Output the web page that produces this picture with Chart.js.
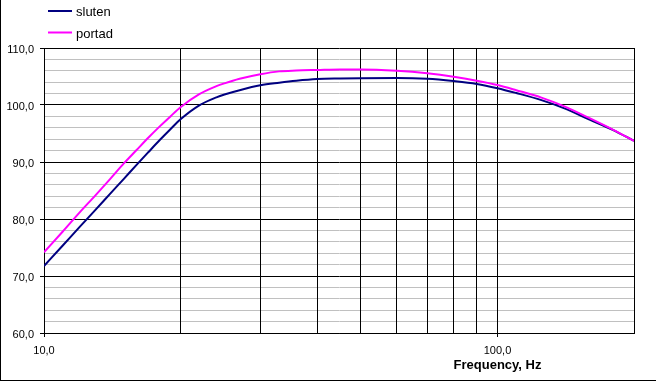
<!DOCTYPE html>
<html><head><meta charset="utf-8">
<script src="https://cdn.jsdelivr.net/npm/chart.js@4.4.1/dist/chart.umd.min.js"></script>
<style>html,body{margin:0;padding:0;background:#fff;}canvas{display:block;}</style>
</head><body>
<canvas id="c" width="656" height="381"></canvas>
<script>
// ---- data ----
const freqs  = [10, 11, 12, 13, 14, 15, 16, 17, 18, 19, 20, 22, 24, 25, 27, 30, 33, 36, 40, 45, 50, 60, 70, 80, 90, 100, 110, 125, 140, 160, 180, 200];
const sluten = [71.75, 75.35, 78.65, 81.65, 84.45, 87.05, 89.5, 91.75, 93.85, 95.75, 97.5, 99.95, 101.35, 101.85, 102.6, 103.45, 103.9, 104.25, 104.55, 104.65, 104.7, 104.74, 104.6, 104.2, 103.7, 102.95, 102.1, 100.85, 99.45, 97.4, 95.6, 93.7];
const portad = [74.15, 77.8, 81.2, 84.2, 87.05, 89.75, 92.1, 94.3, 96.25, 98.0, 99.6, 101.9, 103.3, 103.8, 104.6, 105.4, 105.9, 106.05, 106.15, 106.25, 106.25, 106.0, 105.55, 104.95, 104.25, 103.5, 102.6, 101.3, 99.8, 97.65, 95.65, 93.7];
const seriesNames  = ['sluten', 'portad'];
const seriesColors = ['#000080', '#ff00ff'];
const xTickValues = [10, 20, 30, 40, 50, 60, 70, 80, 90, 100, 200];
const xTickLabels = {10: '10,0', 100: '100,0'};
const yTickLabels = {60: '60,0', 70: '70,0', 80: '80,0', 90: '90,0', 100: '100,0', 110: '110,0'};
const xAxisTitle = 'Frequency, Hz';

const FONT = '"Liberation Sans", Arial, sans-serif';
const toPts = arr => freqs.map((f, i) => ({x: f, y: arr[i]}));

const decor = {
  id: 'decor',
  afterDraw(chart) {
    const ctx = chart.ctx;
    ctx.save();
    // legend
    ctx.font = '13px ' + FONT;
    ctx.textAlign = 'left';
    ctx.textBaseline = 'alphabetic';
    seriesNames.forEach((name, i) => {
      const y = 11 + i * 21.5;
      ctx.strokeStyle = seriesColors[i];
      ctx.lineWidth = 2;
      ctx.beginPath(); ctx.moveTo(48, y); ctx.lineTo(72, y); ctx.stroke();
      ctx.fillStyle = '#000';
      ctx.fillText(name, 76, y + 5);
    });
    // x axis title, centred under the 100 tick
    const xs = chart.scales.x;
    ctx.font = 'bold 13px ' + FONT;
    ctx.textAlign = 'center';
    ctx.fillText(xAxisTitle, xs.getPixelForValue(100), 369);
    // outer frame (left and bottom)
    ctx.fillStyle = '#000';
    ctx.fillRect(0, 0, 1, chart.height);
    ctx.fillRect(0, chart.height - 1, chart.width, 1);
    ctx.restore();
  }
};

new Chart(document.getElementById('c'), {
  type: 'line',
  data: {
    datasets: [
      {label: seriesNames[0], data: toPts(sluten), borderColor: seriesColors[0], borderWidth: 2, pointRadius: 0, cubicInterpolationMode: 'monotone', order: 1},
      {label: seriesNames[1], data: toPts(portad), borderColor: seriesColors[1], borderWidth: 2, pointRadius: 0, cubicInterpolationMode: 'monotone', order: 0}
    ]
  },
  options: {
    responsive: false,
    animation: false,
    devicePixelRatio: 1,
    layout: {padding: {top: 48, right: 22, left: 0, bottom: 0}},
    plugins: {legend: {display: false}, tooltip: {enabled: false}},
    scales: {
      x: {
        type: 'logarithmic', min: 10, max: 200, position: 'bottom',
        afterBuildTicks: s => { s.ticks = xTickValues.map(v => ({value: v})); },
        afterFit: s => { s.height = 48; },
        ticks: {autoSkip: false, maxRotation: 0, padding: 7, color: '#000', font: {family: FONT, size: 11},
          callback: v => xTickLabels[v] ?? ''},
        grid: {z: -1, color: '#000', lineWidth: 1, tickLength: 4,
          tickColor: c => (c.tick && xTickLabels[c.tick.value]) ? '#000' : 'rgba(0,0,0,0)'},
        border: {color: '#000'}
      },
      y: {
        min: 60, max: 110,
        afterFit: s => { s.width = 44; },
        ticks: {stepSize: 2, autoSkip: false, padding: 6, labelOffset: 2, color: '#000', font: {family: FONT, size: 11},
          callback: v => yTickLabels[v] ?? ''},
        grid: {z: -2, lineWidth: 1, tickLength: 4,
          color: c => (c.tick && c.tick.value % 10 === 0) ? '#000' : '#c0c0c0',
          tickColor: c => (c.tick && c.tick.value % 10 === 0) ? '#000' : 'rgba(0,0,0,0)'},
        border: {color: '#000'}
      }
    }
  },
  plugins: [decor]
});
</script>
</body></html>
